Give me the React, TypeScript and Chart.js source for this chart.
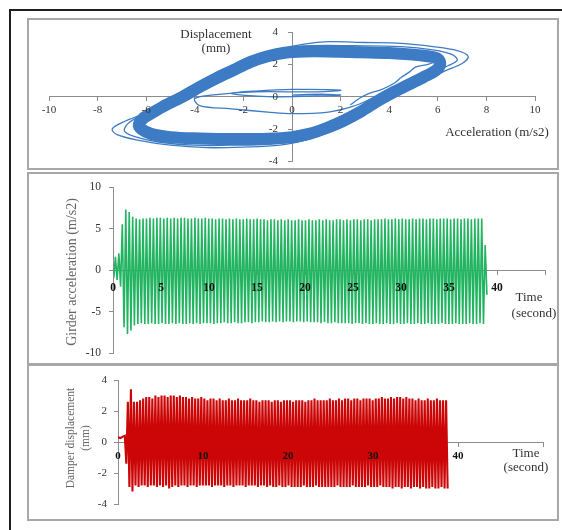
import React, { useEffect, useRef } from 'react';
import { Chart, registerables } from 'chart.js';

Chart.register(...registerables);

const FONT = "'Liberation Serif', 'Times New Roman', serif";
const AXIS = '#8c8c8c';
const BLUE = '#3d7cc4';
const GREEN = '#22b461';
const RED = '#cc0606';

// ---------- Panel 1: hysteresis loop (acceleration m/s2 vs displacement mm) ----------
const accTicksStep = 2;
const bandAcc = [-6.1, -5.3, -4.5, -3.8, -3.1, -2.4, -1.7, -1.0, -0.3, 0.5, 1.5, 2.8, 4.0, 5.0, 5.6, 6.0, 6.1, 5.9, 5.4, 4.8, 4.2, 3.6, 2.8, 2.1, 1.4, 0.7, 0.0, -1.0, -2.4, -3.8, -5.0, -5.8, -6.2, -6.3, -6.1];
const bandDisp = [-1.3, -0.6, 0.0, 0.6, 1.15, 1.65, 2.15, 2.5, 2.72, 2.8, 2.8, 2.75, 2.7, 2.6, 2.5, 2.35, 2.0, 1.6, 1.2, 0.75, 0.3, -0.2, -0.95, -1.5, -1.95, -2.3, -2.5, -2.6, -2.62, -2.58, -2.5, -2.3, -2.0, -1.7, -1.3];
const outerAAcc = [-6.0, -5.2, -4.4, -3.5, -2.5, -1.5, -0.6, 0.5, 1.5, 3.0, 4.5, 5.8, 6.8, 7.25, 7.0, 6.3, 5.5, 4.7, 4.0, 3.2, 2.4, 1.5, 0.5, -0.5, -2.0, -3.5, -5.0, -6.3, -7.2, -7.4, -7.0, -6.0];
const outerADisp = [-1.0, -0.4, 0.2, 0.9, 1.6, 2.3, 2.9, 3.25, 3.4, 3.35, 3.3, 3.1, 2.85, 2.5, 2.05, 1.6, 1.0, 0.4, -0.2, -0.9, -1.6, -2.2, -2.7, -3.0, -3.12, -3.15, -3.0, -2.7, -2.35, -2.0, -1.6, -1.0];
const outerBAcc = [-5.9, -5.0, -4.2, -3.3, -2.3, -1.3, -0.4, 0.8, 2.5, 4.5, 5.8, 6.6, 6.8, 6.4, 5.8, 5.0, 4.4, 3.8, 3.0, 2.2, 1.2, 0.3, -1.0, -2.5, -4.0, -5.5, -6.5, -6.9, -6.7, -5.9];
const outerBDisp = [-0.9, -0.3, 0.3, 1.0, 1.7, 2.4, 2.95, 3.15, 3.15, 3.1, 2.9, 2.6, 2.25, 1.9, 1.5, 0.9, 0.3, -0.3, -1.0, -1.7, -2.3, -2.7, -2.95, -3.0, -3.0, -2.8, -2.45, -2.1, -1.6, -0.9];
const innerRightAcc = [6.1, 5.6, 5.1, 4.85, 4.5, 4.2, 3.7, 3.2, 2.8, 2.4];
const innerRightDisp = [2.25, 2.0, 1.85, 1.55, 1.2, 0.83, 0.45, 0.22, -0.08, -0.5];
const transientAcc = [0.0, 1.2, 2.0, 1.0, -1.0, -2.5, -1.5, 0.0, 2.0, 1.0, -1.5, -3.0, -4.0, -3.8, -2.5, -1.0, 0.0, 1.5, 2.5, 3.3];
const transientDisp = [0.1, 0.15, 0.1, 0.05, 0.0, 0.2, 0.35, 0.45, 0.4, 0.3, 0.3, 0.15, -0.1, -0.55, -0.75, -0.95, -1.05, -0.95, -0.6, -0.1];

// ---------- Panel 2: girder acceleration (m/s2) vs time (s) ----------
const girderLeadTime = [0, 0.12];
const girderLeadValue = [0, -0.5];
const GIRDER_START = 0.25;
const GIRDER_CYCLE = 0.36;
const girderPeaks = [
  1.6, 2.0, 5.5, 7.3, 7.0, 6.4, 6.2,
  6.1, 6.2, 6.2, 6.3, 6.2, 6.3, 6.3, 6.2, 6.3, 6.2,
  6.3, 6.2, 6.3, 6.3, 6.2, 6.2, 6.3, 6.2, 6.2, 6.3,
  6.2, 6.2, 6.1, 6.2, 6.2, 6.1, 6.2, 6.1, 6.2, 6.1,
  6.1, 6.2, 6.1, 6.1, 6.2, 6.1, 6.1, 6.0, 6.1, 6.1,
  6.0, 6.1, 6.0, 6.1, 6.0, 6.0, 6.1, 6.0, 6.0, 6.1,
  6.0, 6.0, 6.1, 6.0, 6.1, 6.0, 6.0, 6.1, 6.1, 6.0,
  6.1, 6.0, 6.1, 6.1, 6.0, 6.1, 6.1, 6.0, 6.1, 6.1,
  6.1, 6.2, 6.1, 6.1, 6.2, 6.1, 6.2, 6.1, 6.1, 6.2,
  6.1, 6.2, 6.2, 6.1, 6.2, 6.2, 6.1, 6.2, 6.2, 6.2,
  6.1, 6.2, 6.2, 6.1, 6.2, 6.2, 6.1, 6.2, 6.2, 6.2, 3.0,
];
const girderTroughs = [
  -1.2, -2.0, -6.9, -7.7, -7.3, -6.7, -6.5,
  -6.4, -6.5, -6.5, -6.4, -6.5, -6.5, -6.4, -6.5, -6.5, -6.4,
  -6.5, -6.4, -6.5, -6.5, -6.4, -6.5, -6.4, -6.5, -6.4, -6.4,
  -6.4, -6.5, -6.4, -6.4, -6.3, -6.4, -6.4, -6.3, -6.4, -6.4,
  -6.3, -6.3, -6.4, -6.3, -6.3, -6.2, -6.3, -6.3, -6.2, -6.3,
  -6.2, -6.3, -6.2, -6.2, -6.3, -6.2, -6.2, -6.3, -6.2, -6.3,
  -6.3, -6.3, -6.4, -6.3, -6.4, -6.4, -6.3, -6.4, -6.4, -6.4,
  -6.4, -6.5, -6.4, -6.4, -6.5, -6.4, -6.5, -6.5, -6.4, -6.5,
  -6.5, -6.4, -6.5, -6.5, -6.4, -6.5, -6.5, -6.4, -6.5, -6.5,
  -6.4, -6.5, -6.5, -6.4, -6.5, -6.5, -6.5, -6.4, -6.5, -6.5,
  -6.5, -6.4, -6.5, -6.5, -6.5, -6.4, -6.5, -6.5, -6.4, -6.5, -3.0,
];

// ---------- Panel 3: damper displacement (mm) vs time (s) ----------
const damperLeadTime = [0, 0.3, 0.55];
const damperLeadValue = [0.3, 0.25, 0.35];
const DAMPER_START = 0.8;
const DAMPER_CYCLE = 0.36;
const damperPeaks = [
  0.4, 2.6, 3.4, 2.6, 2.6, 2.7,
  2.8, 2.9, 2.9, 2.8, 3.0, 2.9, 3.0, 3.0, 2.9, 3.0,
  3.0, 2.9, 3.0, 2.9, 2.9, 2.8, 2.9, 2.8, 2.8, 2.9,
  2.8, 2.7, 2.8, 2.8, 2.7, 2.8, 2.7, 2.7, 2.8, 2.7,
  2.7, 2.8, 2.7, 2.7, 2.7, 2.8, 2.7, 2.7, 2.6, 2.7,
  2.7, 2.7, 2.6, 2.7, 2.7, 2.6, 2.7, 2.7, 2.7, 2.6,
  2.7, 2.7, 2.7, 2.6, 2.7, 2.7, 2.8, 2.7, 2.7, 2.7,
  2.7, 2.8, 2.7, 2.7, 2.8, 2.7, 2.8, 2.8, 2.7, 2.8,
  2.8, 2.7, 2.8, 2.8, 2.8, 2.7, 2.8, 2.8, 2.9, 2.8,
  2.8, 2.9, 2.8, 2.9, 2.9, 2.8, 2.9, 2.8, 2.8, 2.7,
  2.8, 2.7, 2.7, 2.8, 2.7, 2.7, 2.8, 2.7, 2.7, 2.7,
];
const damperTroughs = [
  -1.4, -2.9, -3.2, -2.8, -2.9, -2.8,
  -2.8, -2.9, -2.8, -2.8, -2.9, -2.8, -2.9, -2.8, -3.0, -2.9,
  -2.8, -2.9, -2.8, -2.8, -2.9, -2.8, -2.8, -2.9, -2.8, -2.8,
  -2.8, -2.8, -2.9, -2.8, -2.8, -2.8, -2.9, -2.8, -2.8, -2.9,
  -2.8, -2.8, -2.8, -2.9, -2.8, -2.8, -2.8, -2.9, -2.8, -2.8,
  -2.9, -2.8, -2.9, -2.9, -2.8, -2.9, -2.9, -2.8, -2.9, -2.9,
  -2.9, -2.9, -2.8, -2.9, -2.9, -2.9, -2.8, -2.9, -2.9, -2.9,
  -2.9, -2.9, -2.9, -2.8, -2.9, -2.9, -2.9, -2.9, -2.8, -2.9,
  -2.9, -2.9, -2.9, -2.8, -2.9, -2.9, -2.9, -2.8, -2.9, -2.9,
  -2.9, -3.0, -2.9, -2.9, -3.0, -2.9, -2.9, -3.0, -2.9, -2.9,
  -3.0, -2.9, -3.0, -3.0, -2.9, -3.0, -3.0, -2.9, -3.0, -3.0,
];

const zipXY = (xs: number[], ys: number[]) => xs.map((x, i) => ({ x, y: ys[i] }));

function buildSeries(leadT: number[], leadV: number[], start: number, cycle: number, peaks: number[], troughs: number[]) {
  const pts = zipXY(leadT, leadV);
  peaks.forEach((p, i) => {
    pts.push({ x: start + i * cycle, y: p });
    pts.push({ x: start + i * cycle + cycle / 2, y: troughs[i] });
  });
  return pts;
}

const baseOptions = (padding: any) => ({
  animation: false as const,
  responsive: false,
  events: [] as any[],
  layout: { autoPadding: false, padding },
  plugins: { legend: { display: false }, tooltip: { enabled: false } },
});

const lineGrid = { display: true, drawOnChartArea: false, drawTicks: true, tickLength: 4, color: AXIS };
const noGrid = { display: false, drawTicks: false };

function ChartBox({ left, top, width, height, config }: any) {
  const ref = useRef<HTMLCanvasElement>(null);
  useEffect(() => {
    if (!ref.current) return;
    const chart = new Chart(ref.current, config());
    return () => chart.destroy();
  }, []);
  return (
    <canvas
      ref={ref}
      width={width}
      height={height}
      style={{ position: 'absolute', left, top, width, height }}
    />
  );
}

const loopConfig = () => {
  const thin = { showLine: true, pointRadius: 0, borderColor: BLUE, borderWidth: 1.3, tension: 0.35, fill: false };
  return {
    type: 'scatter',
    data: {
      datasets: [
        { ...thin, data: zipXY(transientAcc, transientDisp), order: 1 },
        { ...thin, data: zipXY(innerRightAcc, innerRightDisp), order: 1 },
        { showLine: true, pointRadius: 0, borderColor: BLUE, borderWidth: 12, tension: 0.35, borderJoinStyle: 'round', borderCapStyle: 'round', data: zipXY(bandAcc, bandDisp), order: 2 },
        { ...thin, data: zipXY(outerAAcc, outerADisp), order: 3 },
        { ...thin, data: zipXY(outerBAcc, outerBDisp), order: 3 },
      ],
    },
    options: {
      ...baseOptions({ left: 20, right: 22, top: 12, bottom: 5 }),
      scales: {
        x: {
          type: 'linear', min: -10, max: 10, position: { y: 0 },
          ticks: { stepSize: accTicksStep, z: 1, padding: 3, color: '#333', font: { family: FONT, size: 11 } },
          grid: lineGrid, border: { color: AXIS },
        },
        y: {
          type: 'linear', min: -4, max: 4, position: { x: 0 },
          ticks: { stepSize: 2, display: false },
          grid: lineGrid, border: { color: AXIS },
        },
        yl: {
          axis: 'y', type: 'linear', min: -4, max: 4, position: { x: -0.58 },
          ticks: { stepSize: 2, z: 1, padding: 0, color: '#333', font: { family: FONT, size: 11 } },
          grid: noGrid, border: { display: false },
        },
      },
    },
  };
};

const timeConfig = (opts: any) => () => ({
  type: 'scatter',
  data: {
    datasets: [
      { showLine: true, pointRadius: 0, borderColor: opts.color, borderWidth: opts.lineWidth, tension: 0, data: opts.points },
    ],
  },
  options: {
    ...baseOptions(opts.padding),
    scales: {
      x: {
        type: 'linear', min: 0, max: opts.xMax, position: { y: 0 },
        ticks: {
          stepSize: opts.xStep, z: 1, padding: opts.xPad, color: '#111',
          font: { family: FONT, size: opts.xFont, weight: 'bold' },
          callback: (v: number) => (v === opts.xMax ? '' : String(v)),
        },
        grid: lineGrid, border: { color: AXIS },
      },
      y: {
        type: 'linear', min: -opts.yMax, max: opts.yMax, position: { x: 0 },
        ticks: { stepSize: opts.yStep, display: false },
        grid: lineGrid, border: { color: AXIS },
      },
      yl: {
        axis: 'y', type: 'linear', min: -opts.yMax, max: opts.yMax, position: { x: opts.yLabelAt },
        ticks: { stepSize: opts.yStep, z: 1, padding: 0, color: '#333', font: { family: FONT, size: opts.yFont } },
        grid: noGrid, border: { display: false },
      },
    },
  },
});

const girderPoints = buildSeries(girderLeadTime, girderLeadValue, GIRDER_START, GIRDER_CYCLE, girderPeaks, girderTroughs);
const damperPoints = buildSeries(damperLeadTime, damperLeadValue, DAMPER_START, DAMPER_CYCLE, damperPeaks, damperTroughs);

const girderConfig = timeConfig({
  color: GREEN, lineWidth: 1.6, points: girderPoints,
  padding: { left: 84, right: 12, top: 13, bottom: 10 },
  xMax: 45, xStep: 5, xPad: 7, xFont: 11.5,
  yMax: 10, yStep: 5, yLabelAt: -1.25, yFont: 11.5,
});

const damperConfig = timeConfig({
  color: RED, lineWidth: 2.1, points: damperPoints,
  padding: { left: 89, right: 14, top: 14, bottom: 15 },
  xMax: 50, xStep: 10, xPad: 4, xFont: 11,
  yMax: 4, yStep: 2, yLabelAt: -1.3, yFont: 11,
});

const txt = (cx: number, cy: number, text: React.ReactNode, size: number, extra: any = {}) => (
  <div
    style={{
      position: 'absolute', left: cx, top: cy, transform: 'translate(-50%, -50%)',
      fontFamily: FONT, fontSize: size, color: '#333', whiteSpace: 'nowrap', lineHeight: 1.1,
      textAlign: 'center', ...extra,
    }}
  >
    {text}
  </div>
);

const panel = (left: number, top: number, width: number, height: number) => ({
  position: 'absolute' as const, left, top, width, height, boxSizing: 'border-box' as const,
  border: '2px solid #a8a8a8', background: '#fff',
});

export default function App() {
  return (
    <div style={{ position: 'absolute', left: 0, top: 0, width: 562, height: 530, overflow: 'hidden', background: '#fff' }}>
      <div style={{ position: 'absolute', left: 9, top: 9, width: 560, height: 530, borderLeft: '2px solid #1e1e1e', borderTop: '2px solid #1e1e1e' }} />
      <div style={panel(27, 18, 532, 152)} />
      <div style={panel(27, 172, 532, 193)} />
      <div style={panel(27, 364, 532, 157)} />

      <ChartBox left={29} top={20} width={528} height={148} config={loopConfig} />
      <ChartBox left={29} top={174} width={528} height={189} config={girderConfig} />
      <ChartBox left={29} top={366} width={528} height={153} config={damperConfig} />

      {txt(216, 41, <>Displacement<br />(mm)</>, 13)}
      {txt(497, 132, 'Acceleration (m/s2)', 13)}

      {txt(72, 272, 'Girder acceleration (m/s2)', 14, { transform: 'translate(-50%, -50%) rotate(-90deg)', color: '#666' })}
      {txt(529, 297, 'Time', 13)}
      {txt(534, 313, '(second)', 13)}

      {txt(78, 438, <>Damper displacement<br />(mm)</>, 11.5, { transform: 'translate(-50%, -50%) rotate(-90deg)', color: '#666', lineHeight: 1.3 })}
      {txt(526, 453, 'Time', 13)}
      {txt(526, 467, '(second)', 13)}
    </div>
  );
}
